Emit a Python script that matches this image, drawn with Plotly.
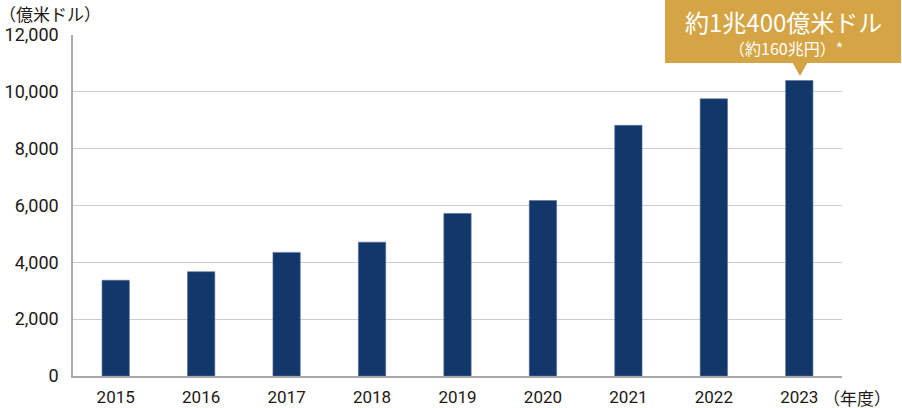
import plotly.graph_objects as go

years = ["2015", "2016", "2017", "2018", "2019", "2020", "2021", "2022", "2023"]
values = [3370, 3670, 4350, 4710, 5720, 6175, 8820, 9755, 10400]
y_ticks = [0, 2000, 4000, 6000, 8000, 10000, 12000]
y_tick_labels = ["0", "2,000", "4,000", "6,000", "8,000", "10,000", "12,000"]

y_unit = "（億米ドル）"
x_unit = "（年度）"
callout_main = "約1兆400億米ドル"
callout_sub = "（約160兆円）*"

FONT = "Roboto, 'Noto Sans CJK JP', sans-serif"
CJK = "'Noto Sans CJK JP', Roboto, sans-serif"
BAR = "#12376a"
GOLD = "#d4a445"

fig = go.Figure()
fig.add_trace(go.Bar(
    x=years, y=values, width=0.32,
    marker=dict(color=BAR, line=dict(color="#5b7196", width=0.6)),
    hoverinfo="x+y",
))

W, H = 902, 408
L, R, T, B = 73, 60, 35, 32
pw, ph = W - L - R, H - T - B

def px(x):
    return (x - L) / pw

def py(y):
    return (H - B - y) / ph

shapes = [
    dict(type="rect", xref="paper", yref="paper",
         x0=px(665), x1=px(901), y0=py(63), y1=py(0),
         fillcolor=GOLD, line=dict(width=0), layer="above"),
    dict(type="path", xref="paper", yref="paper",
         path=f"M {px(792.5)} {py(62.5)} L {px(807.5)} {py(62.5)} L {px(800)} {py(76)} Z",
         fillcolor=GOLD, line=dict(width=0), layer="above"),
]

annotations = [
    dict(text=y_unit, xref="paper", yref="paper", x=px(-3), y=py(13),
         xanchor="left", yanchor="middle", showarrow=False,
         font=dict(family=CJK, size=17, color="#231815")),
    dict(text=x_unit, xref="paper", yref="paper", x=px(822), y=py(397),
         xanchor="left", yanchor="middle", showarrow=False, borderpad=0,
         font=dict(family=CJK, size=17, color="#231815")),
    dict(text=callout_main, xref="paper", yref="paper", x=px(783), y=py(21),
         xanchor="center", yanchor="middle", showarrow=False, borderpad=0,
         font=dict(family=CJK, size=24, color="white")),
    dict(text=callout_sub, xref="paper", yref="paper", x=px(786), y=py(48),
         xanchor="center", yanchor="middle", showarrow=False, borderpad=0,
         font=dict(family=CJK, size=16, color="white")),
]

fig.update_layout(
    width=W, height=H,
    margin=dict(l=L, r=R, t=T, b=B, pad=0, autoexpand=False),
    plot_bgcolor="white", paper_bgcolor="white",
    showlegend=False,
    bargap=0.68,
    font=dict(family=FONT, size=17, color="#231815"),
    shapes=shapes,
    annotations=annotations,
    xaxis=dict(
        showgrid=False, showline=True, linecolor="#aaaaaa", linewidth=1.5,
        ticks="outside", ticklen=5, tickcolor="rgba(0,0,0,0)",
        tickfont=dict(family=FONT, size=17, color="#231815"),
        fixedrange=True, automargin=False,
    ),
    yaxis=dict(
        range=[0, 12000], tickvals=y_ticks, ticktext=y_tick_labels,
        showgrid=True, gridcolor="#cccccc", gridwidth=1,
        showline=True, linecolor="#aaaaaa", linewidth=1.5,
        zeroline=False,
        ticks="outside", ticklen=9, tickcolor="rgba(0,0,0,0)",
        tickfont=dict(family=FONT, size=18, color="#231815"),
        fixedrange=True, automargin=False,
    ),
)

fig.write_html(
    "out.html",
    config={"displayModeBar": False},
    post_script="document.body.style.margin='0';document.body.style.overflow='hidden';",
)
